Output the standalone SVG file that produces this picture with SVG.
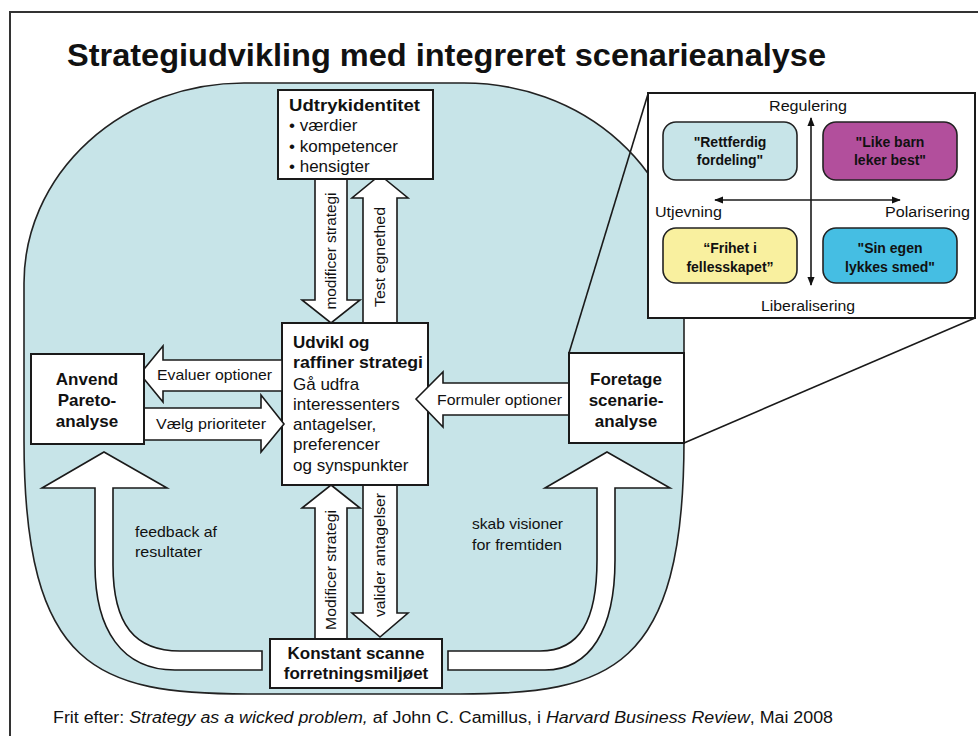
<svg xmlns="http://www.w3.org/2000/svg" width="978" height="736" viewBox="0 0 978 736">
<style>
.box{fill:#fff;stroke:#1a1a1a;stroke-width:2}
.arr{fill:#fff;stroke:#1a1a1a;stroke-width:1.6;stroke-linejoin:miter}
.b{font-family:"Liberation Sans",Arial,sans-serif;font-weight:bold;fill:#111}
.r{font-family:"Liberation Sans",Arial,sans-serif;fill:#111}
.q{fill-opacity:1;stroke:#222;stroke-width:1.6}
.m{text-anchor:middle}
.ln{stroke:#1a1a1a;stroke-width:1.6;fill:none}
</style>
<defs>
<marker id="ah" viewBox="0 0 10 10" refX="9" refY="5" markerWidth="9" markerHeight="9" orient="auto-start-reverse" markerUnits="userSpaceOnUse">
<path d="M0,1 L10,5 L0,9 Z" fill="#111"/>
</marker>
</defs>
<rect width="978" height="736" fill="#fff"/>
<path d="M10,736 V12 H978" fill="none" stroke="#333" stroke-width="2"/>
<text class="b" x="67" y="66" font-size="32" textLength="759" lengthAdjust="spacingAndGlyphs">Strategiudvikling med integreret scenarieanalyse</text>

<path id="bg" d="M244,83 H464 A220,200 0 0 1 684,283 V440 C684,670 610,694 460,694 H248 C98,694 24,670 24,440 V283 A220,200 0 0 1 244,83 Z" fill="#c7e4e8" stroke="#222" stroke-width="1.6"/>

<g id="connectors">
<line class="ln" x1="648" y1="94" x2="569" y2="353"/>
<line class="ln" x1="975" y1="318" x2="684" y2="443"/>
<!-- top vertical arrows -->
<polygon class="arr" points="315,179 347,179 347,300 360,300 331,323 302,300 315,300"/>
<polygon class="arr" points="380,175 408,198 397,198 397,323 363,323 363,198 352,198"/>
<!-- bottom vertical arrows -->
<polygon class="arr" points="331,485 360,508 347,508 347,639 315,639 315,508 302,508"/>
<polygon class="arr" points="363,485 397,485 397,613 408,613 380,637 352,613 363,613"/>
<!-- big curved arrows -->
<path class="arr" d="M104,452 L167,488 L113,488 L113,565 C113,625 135,651 180,651 L262,651 L262,670 L175,670 C122,670 95,630 95,565 L95,488 L42,488 Z"/>
<path class="arr" d="M607,452 L670,488 L615,488 L615,560 C615,630 590,670 545,670 L448,670 L448,651 L540,651 C580,651 597,620 597,560 L597,488 L545,488 Z"/>
</g>

<g id="center">
<rect class="box" x="282" y="323" width="146" height="162"/>
<text class="b" x="293" y="348" font-size="17">Udvikl og</text>
<text class="b" x="293" y="368" font-size="17" textLength="130" lengthAdjust="spacingAndGlyphs">raffiner strategi</text>
<text class="r" x="293" y="390" font-size="17">Gå udfra</text>
<text class="r" x="293" y="410" font-size="17">interessenters</text>
<text class="r" x="293" y="430" font-size="17">antagelser,</text>
<text class="r" x="293" y="450" font-size="17">preferencer</text>
<text class="r" x="293" y="471" font-size="17">og synspunkter</text>
</g>

<g id="horizontal-arrows">
<polygon class="arr" points="140,374 163,346 163,360 282,360 282,391 163,391 163,402"/>
<polygon class="arr" points="144,408 261,408 261,395 284,424 261,452 261,440 144,440"/>
<polygon class="arr" points="416,399 443,372 443,383 569,383 569,415 443,415 443,427"/>
<text class="r" x="157" y="380" font-size="15" textLength="115" lengthAdjust="spacingAndGlyphs">Evaluer optioner</text>
<text class="r" x="156" y="429" font-size="15" textLength="110" lengthAdjust="spacingAndGlyphs">Vælg prioriteter</text>
<text class="r" x="437" y="405" font-size="15" textLength="125" lengthAdjust="spacingAndGlyphs">Formuler optioner</text>
</g>

<g id="vertical-labels">
<text class="r m" font-size="14" transform="translate(336,251) rotate(-90)" textLength="117" lengthAdjust="spacingAndGlyphs">modificer strategi</text>
<text class="r m" font-size="14" transform="translate(385,257) rotate(-90)" textLength="100" lengthAdjust="spacingAndGlyphs">Test egnethed</text>
<text class="r m" font-size="14" transform="translate(336,570) rotate(-90)" textLength="120" lengthAdjust="spacingAndGlyphs">Modificer strategi</text>
<text class="r m" font-size="14" transform="translate(385,555) rotate(-90)" textLength="124" lengthAdjust="spacingAndGlyphs">valider antagelser</text>
</g>

<g id="identity">
<rect class="box" x="278" y="90" width="155" height="89"/>
<text class="b" x="289" y="111" font-size="17" textLength="131" lengthAdjust="spacingAndGlyphs">Udtrykidentitet</text>
<text class="r" x="289" y="131" font-size="17">• værdier</text>
<text class="r" x="289" y="152" font-size="17">• kompetencer</text>
<text class="r" x="289" y="172" font-size="17">• hensigter</text>
</g>

<g id="pareto">
<rect class="box" x="31" y="354" width="113" height="90"/>
<text class="b m" x="87" y="385" font-size="17">Anvend</text>
<text class="b m" x="87" y="406" font-size="17">Pareto-</text>
<text class="b m" x="87" y="427" font-size="17">analyse</text>
</g>

<g id="scenario">
<rect class="box" x="569" y="353" width="115" height="90"/>
<text class="b m" x="626" y="385" font-size="17">Foretage</text>
<text class="b m" x="626" y="406" font-size="17">scenarie-</text>
<text class="b m" x="626" y="427" font-size="17">analyse</text>
</g>

<g id="scan">
<rect class="box" x="270" y="639" width="172" height="49"/>
<text class="b m" x="356" y="659" font-size="17">Konstant scanne</text>
<text class="b m" x="356" y="679" font-size="17">forretningsmiljøet</text>
</g>

<g id="curve-labels">
<text class="r" x="135" y="537" font-size="15" textLength="82" lengthAdjust="spacingAndGlyphs">feedback af</text>
<text class="r" x="135" y="557" font-size="15" textLength="67" lengthAdjust="spacingAndGlyphs">resultater</text>
<text class="r" x="472" y="529" font-size="15" textLength="91" lengthAdjust="spacingAndGlyphs">skab visioner</text>
<text class="r" x="472" y="550" font-size="15" textLength="90" lengthAdjust="spacingAndGlyphs">for fremtiden</text>
</g>

<g id="inset">
<rect class="box" x="648" y="93" width="327" height="225"/>
<rect class="q" x="663" y="122" width="134" height="58" rx="13" fill="#c7e4e8"/>
<rect class="q" x="823" y="122" width="134" height="58" rx="13" fill="#b24f9c"/>
<rect class="q" x="663" y="228" width="134" height="55" rx="13" fill="#f9f09f"/>
<rect class="q" x="823" y="228" width="134" height="55" rx="13" fill="#45bee3"/>
<line class="ln" x1="811" y1="118" x2="811" y2="285" marker-start="url(#ah)" marker-end="url(#ah)"/>
<line class="ln" x1="715" y1="200" x2="900" y2="200" marker-start="url(#ah)" marker-end="url(#ah)"/>
<text class="r m" x="808" y="111" font-size="14" textLength="78" lengthAdjust="spacingAndGlyphs">Regulering</text>
<text class="r m" x="808" y="311" font-size="14" textLength="94" lengthAdjust="spacingAndGlyphs">Liberalisering</text>
<text class="r" x="655" y="217" font-size="14" textLength="67" lengthAdjust="spacingAndGlyphs">Utjevning</text>
<text class="r" x="885" y="217" font-size="14" textLength="85" lengthAdjust="spacingAndGlyphs">Polarisering</text>
<text class="b m" x="730" y="147" font-size="14">"Rettferdig</text>
<text class="b m" x="730" y="165" font-size="14">fordeling"</text>
<text class="b m" x="890" y="147" font-size="14">"Like barn</text>
<text class="b m" x="890" y="165" font-size="14">leker best"</text>
<text class="b m" x="730" y="253" font-size="14">“Frihet i</text>
<text class="b m" x="730" y="272" font-size="14">fellesskapet”</text>
<text class="b m" x="890" y="253" font-size="14">"Sin egen</text>
<text class="b m" x="890" y="272" font-size="14">lykkes  smed"</text>
</g>

<text class="r" x="53" y="723" font-size="16" textLength="780" lengthAdjust="spacingAndGlyphs">Frit efter: <tspan font-style="italic">Strategy as a wicked problem,</tspan> af John C. Camillus, i <tspan font-style="italic">Harvard Business Review</tspan>, Mai 2008</text>
</svg>
